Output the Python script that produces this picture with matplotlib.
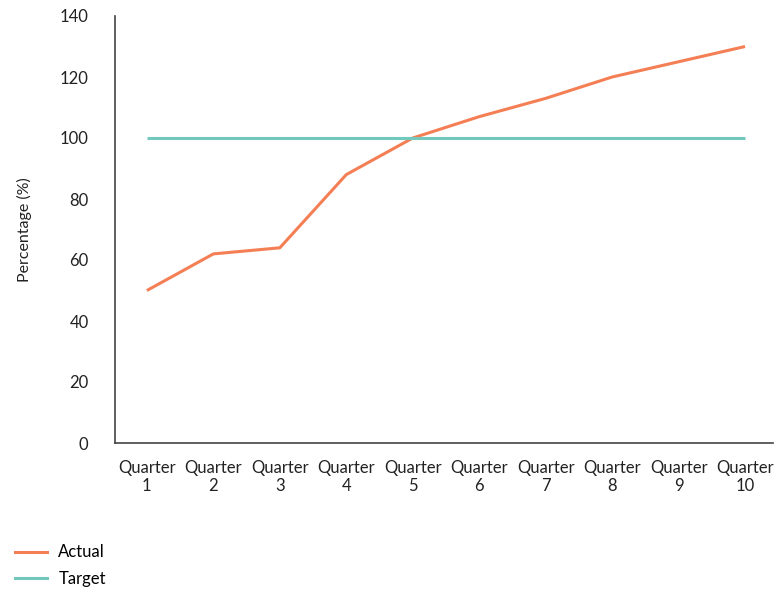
import matplotlib.pyplot as plt
from matplotlib.lines import Line2D

plt.rcParams['font.family'] = ['Lato', 'DejaVu Sans']

quarters = ['Quarter\n%d' % i for i in range(1, 11)]
actual = [50, 62, 64, 88, 100, 107, 113, 120, 125, 130]
target = [100] * 10
y_ticks = [0, 20, 40, 60, 80, 100, 120, 140]

c_actual = '#F47F55'
c_target = '#72C8BC'

fig = plt.figure(figsize=(7.74, 5.90), dpi=100)
ax = fig.add_axes([115 / 774, 1 - 443 / 590, (773 - 115) / 774, (443 - 16) / 590])

x = list(range(len(quarters)))
ax.plot(x, actual, color=c_actual, lw=2.2, solid_capstyle='butt')
ax.plot(x, target, color=c_target, lw=2.2, solid_capstyle='butt')

ax.set_xlim(-0.48, 9.42)
ax.set_ylim(0, 140)
ax.set_yticks(y_ticks)
ax.set_xticks(x)
ax.set_xticklabels(quarters, fontsize=12, linespacing=1.15)
ax.tick_params(axis='both', length=0, labelsize=12, colors='#222222')
ax.tick_params(axis='y', pad=19)
ax.tick_params(axis='x', pad=12)

for s in ['top', 'right']:
    ax.spines[s].set_visible(False)
for s in ['left', 'bottom']:
    ax.spines[s].set_color('#444444')
    ax.spines[s].set_linewidth(1.2)

ax.set_ylabel('Percentage (%)', fontsize=11.5, color='#222222', labelpad=20)

handles = [Line2D([], [], color=c_actual, lw=2.2),
           Line2D([], [], color=c_target, lw=2.2)]
fig.legend(handles, ['Actual', 'Target'], loc='lower left',
           bbox_to_anchor=(0.0, -0.02), frameon=False, fontsize=12,
           handlelength=1.9, handletextpad=0.7, labelspacing=0.62)

fig.savefig('out.png', dpi=100)
